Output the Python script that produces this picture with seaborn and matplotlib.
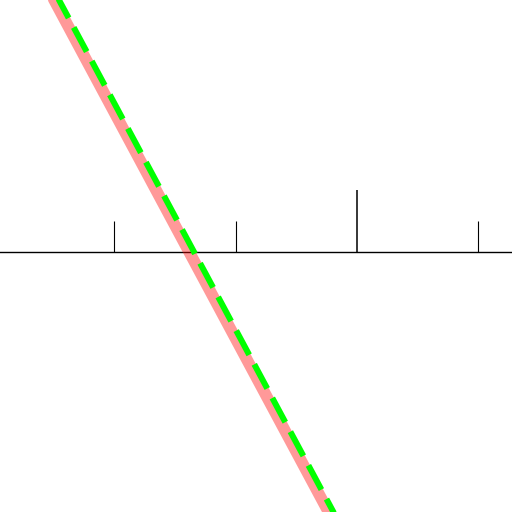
import numpy as np
import pandas as pd
import seaborn as sns
import matplotlib.pyplot as plt

# Datos de las dos rectas (extremos, fuera de los límites visibles)
x_rosa = [-2.6, -0.075]
y_rosa = [2.27, -2.44]
x_verde = [-2.56, -0.035]
y_verde = [2.27, -2.44]

ticks_mayores = [0]
ticks_menores = [-2, -1, 1]

sns.set_style("white")

fig = plt.figure(figsize=(5.12, 5.12), dpi=100)
ax = fig.add_axes([0, 0, 1, 1])

# Recta gruesa rosa
sns.lineplot(x=x_rosa, y=y_rosa, ax=ax, color="red", alpha=0.4, lw=8.4,
             sort=False, zorder=3)
# Recta verde discontinua
sns.lineplot(x=x_verde, y=y_verde, ax=ax, color="#00ff00", lw=4.3,
             linestyle=(1.0, (4.6, 1.8)), sort=False, zorder=4)

ax.set_xlim(-2.943, 1.278)
ax.set_ylim(-2.143, 2.077)

# Eje x centrado, sin eje y
for s in ["left", "right", "top"]:
    ax.spines[s].set_visible(False)
ax.spines["bottom"].set_position(("data", 0))
ax.spines["bottom"].set_linewidth(1.0)
ax.spines["bottom"].set_color("black")

ax.set_xticks(ticks_mayores)
ax.set_xticks(ticks_menores, minor=True)
ax.tick_params(axis="x", which="major", direction="in", length=44.6, width=1.1,
               color="black", labelbottom=False, bottom=True)
ax.tick_params(axis="x", which="minor", direction="in", length=22.3, width=0.8,
               color="black", labelbottom=False, bottom=True)
ax.set_yticks([])
ax.set_xlabel("")
ax.set_ylabel("")

fig.savefig("out.png", dpi=100)
